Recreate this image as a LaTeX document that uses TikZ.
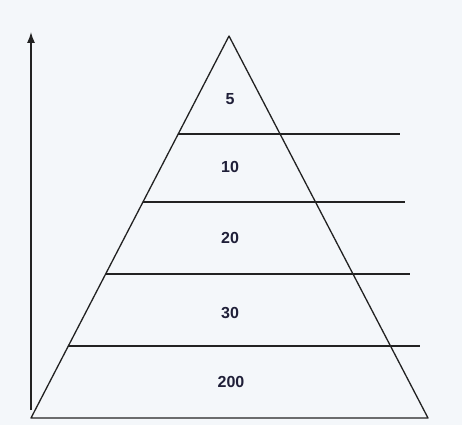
\documentclass[tikz,border=0pt]{standalone}
\usepackage{fontspec}
\setmainfont{Liberation Sans}
\usetikzlibrary{arrows.meta,calc}
\definecolor{papel}{HTML}{F4F7FA}
\definecolor{tinta}{HTML}{222222}
\tikzset{
  trazo/.style={draw=tinta, line width=1.3pt},
  nivel/.style={draw=tinta, line width=1.2pt},
  cifra/.style={font=\bfseries\fontsize{16}{16}\selectfont, text=tinta!90!blue, inner sep=0pt},
  flechaEje/.style={-{Latex[length=11pt,width=8pt]}, draw=tinta, line width=1.3pt},
}

\begin{document}
\begin{tikzpicture}[x=1pt,y=-1pt]
    \fill[papel] (0,0) rectangle (462,425);
    \useasboundingbox (0,0) rectangle (462,425);

    \coordinate (apex)  at (229,36);
    \coordinate (baseL) at (31,418);
    \coordinate (baseR) at (428,418);
    \coordinate (ejeBajo) at (31,410);
    \coordinate (ejeAlto) at (31,32);

    \draw[trazo, line join=round] (apex) -- (baseL) -- (baseR) -- cycle;

    \coordinate (n1) at ($(apex)!0.2565!(baseL)$);
    \coordinate (n2) at ($(apex)!0.4346!(baseL)$);
    \coordinate (n3) at ($(apex)!0.6230!(baseL)$);
    \coordinate (n4) at ($(apex)!0.8115!(baseL)$);
    \coordinate (f1) at (400,134);
    \coordinate (f2) at (405,202);
    \coordinate (f3) at (410,274);
    \coordinate (f4) at (420,346);

    \draw[nivel] (n1) -- (n1 -| f1);
    \draw[nivel] (n2) -- (n2 -| f2);
    \draw[nivel] (n3) -- (n3 -| f3);
    \draw[nivel] (n4) -- (n4 -| f4);

    \node[cifra] (c5)   at (230,99)  {5};
    \node[cifra] (c10)  at (230,167) {10};
    \node[cifra] (c20)  at (230,238) {20};
    \node[cifra] (c30)  at (230,313) {30};
    \node[cifra] (c200) at (231,382) {200};

    \draw[flechaEje] (ejeBajo) -- (ejeAlto);
  \end{tikzpicture}
\end{document}
